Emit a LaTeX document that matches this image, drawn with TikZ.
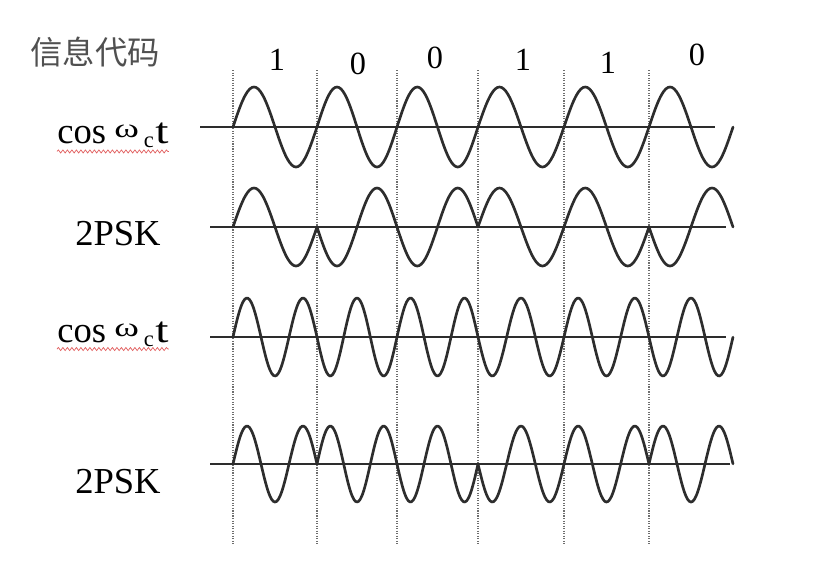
\documentclass[tikz,border=0pt]{standalone}
\usepackage{fontspec}
\setmainfont{Liberation Serif}
\newfontfamily\cjk{Noto Sans CJK SC}
\usetikzlibrary{decorations.pathmorphing}
\definecolor{wgray}{RGB}{45,45,45}
\definecolor{lgray}{RGB}{110,110,110}
\definecolor{tgray}{RGB}{80,80,80}
\definecolor{zred}{RGB}{225,95,95}

% carrier label: cos, raised wide omega, lowered c, t
\newcommand{\carrlabel}{cos\hspace{6pt}\raisebox{4pt}{\scalebox{1.4}[1]{\fontsize{19}{19}\selectfont ω}}\hspace{3.5pt}\raisebox{-3.5pt}{\fontsize{16}{16}\selectfont c}\hspace{1pt}\scalebox{1.3}[1]{t}}

\begin{document}
\begin{tikzpicture}[x=0.025cm, y=-0.025cm,
  wave/.style={line width=1.9pt, wgray, line cap=round, line join=round},
  axisline/.style={line width=1.4pt, wgray},
  gridline/.style={lgray, densely dotted, line width=0.8pt},
  siglbl/.style={anchor=base west, font=\fontsize{26}{26}\selectfont, inner sep=0pt},
  bitlbl/.style={font=\fontsize{23}{23}\selectfont, inner sep=0pt},
  squig/.style={zred, line width=0.5pt, decorate,
                decoration={snake, amplitude=1.1pt, segment length=3.2pt}}
]
\useasboundingbox (0,0) rectangle (813,562);

% Labels on the left
\node[font=\cjk\fontsize{23}{23}\selectfont, text=tgray] (code) at (95,52) {信息代码};
\node[siglbl] (carr1) at (57,143) {\carrlabel};
\node[siglbl] (psk1)  at (75,245) {2PSK};
\node[siglbl] (carr2) at (57,342) {\carrlabel};
\node[siglbl] (psk2)  at (75,493) {2PSK};

% spell-check squiggles
\draw[squig] ([yshift=-6pt]carr1.base west) -- ([yshift=-6pt]carr1.base east);
\draw[squig] ([yshift=-5pt]carr2.base west) -- ([yshift=-5pt]carr2.base east);

% Bit values
\foreach \bx/\by/\b [count=\i] in {277/60/1, 358/64/0, 435/58/0, 523/60/1, 608/63/1, 697/55/0}
  \node[bitlbl] (bit\i) at (\bx,\by) {\b};

% Dotted bit boundaries
\foreach \gx [count=\i] in {233,317,397,478,564,649} {
  \coordinate (top\i) at (\gx,70);
  \coordinate (bot\i) at (\gx,545);
  \draw[gridline] (top\i) -- (bot\i);
}

% Time axes
\coordinate (ax1a) at (200,127); \coordinate (ax1b) at (715,127);
\coordinate (ax2a) at (210,227); \coordinate (ax2b) at (726,227);
\coordinate (ax3a) at (210,337); \coordinate (ax3b) at (726,337);
\coordinate (ax4a) at (210,464); \coordinate (ax4b) at (730,464);
\draw[axisline] (ax1a) -- (ax1b);
\draw[axisline] (ax2a) -- (ax2b);
\draw[axisline] (ax3a) -- (ax3b);
\draw[axisline] (ax4a) -- (ax4b);

% Waveforms, one bit at a time (\s = +1 for bit 1, -1 for bit 0)
\foreach \xa/\xb/\s [count=\i] in {233/317/1, 317/397/-1, 397/478/-1, 478/564/1, 564/649/1, 649/733/-1} {
  \draw[wave] plot[domain=0:1, samples=41, smooth, variable=\t]
    ({\xa+(\xb-\xa)*\t}, {127-40*sin(360*\t)});
  \draw[wave] plot[domain=0:1, samples=41, smooth, variable=\t]
    ({\xa+(\xb-\xa)*\t}, {227-\s*39*sin(360*\t)});
  \draw[wave] plot[domain=0:1, samples=51, smooth, variable=\t]
    ({\xa+(\xb-\xa)*\t}, {337-39*sin(540*(\i-1+\t))});
  \draw[wave] plot[domain=0:1, samples=51, smooth, variable=\t]
    ({\xa+(\xb-\xa)*\t}, {464-\s*38*sin(540*(\i-1+\t))});
}

\end{tikzpicture}
\end{document}
